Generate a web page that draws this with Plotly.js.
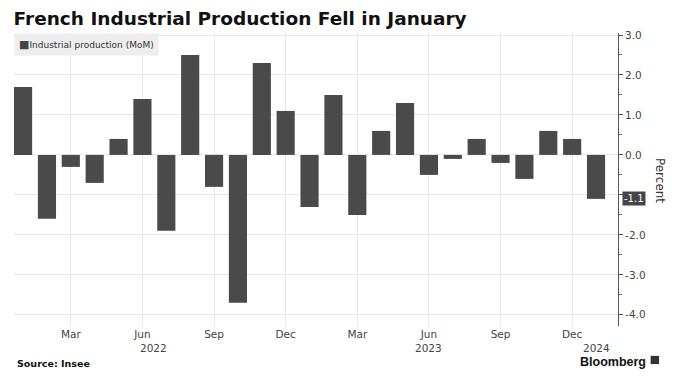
<!DOCTYPE html>
<html>
<head>
<meta charset="utf-8">
<script src="https://cdn.plot.ly/plotly-3.0.1.min.js"></script>
<style>html,body{margin:0;padding:0;background:#fff}#chart{width:679px;height:385px}</style>
</head>
<body>
<div id="chart"></div>
<script>
const months = ["Jan 2022","Feb 2022","Mar 2022","Apr 2022","May 2022","Jun 2022","Jul 2022","Aug 2022","Sep 2022","Oct 2022","Nov 2022","Dec 2022",
  "Jan 2023","Feb 2023","Mar 2023","Apr 2023","May 2023","Jun 2023","Jul 2023","Aug 2023","Sep 2023","Oct 2023","Nov 2023","Dec 2023","Jan 2024"];
const mom = [1.7,-1.6,-0.3,-0.7,0.4,1.4,-1.9,2.5,-0.8,-3.7,2.3,1.1,-1.3,1.5,-1.5,0.6,1.3,-0.5,-0.1,0.4,-0.2,-0.6,0.6,0.4,-1.1];
const tickVals = ["Mar 2022","Jun 2022","Sep 2022","Dec 2022","Mar 2023","Jun 2023","Sep 2023","Dec 2023"];
const tickText = ["Mar","Jun","Sep","Dec","Mar","Jun","Sep","Dec"];
const yearLabels = ["2022","2023","2024"];
const yearAt = ["Jun 2022","Jun 2023","Jan 2024"];
const yTicks = [3,2,1,0,-1,-2,-3,-4];
const yTickText = ["3.0","2.0","1.0","0.0","","-2.0","-3.0","-4.0"];
const seriesName = "Industrial production (MoM)";
const lastVal = mom[mom.length-1];

const font = "DejaVu Sans, Verdana, sans-serif";
const trace = {
  type: "bar", x: months, y: mom, name: seriesName,
  marker: {color: "#4a4a4a", line: {width: 0}},
  showlegend: false
};
const ann = yearLabels.map((t,i)=>({
  x: yearAt[i], xref: "x", y: 0, yref: "paper", yanchor: "top", yshift: -14,
  xshift: i===0 ? 11 : 0,
  text: t, showarrow: false, font: {family: font, size: 10.5, color: "#444"}
}));
ann.push({x: 0, xref: "paper", y: 1, yref: "paper", xanchor: "left", yanchor: "top",
  text: "<span style='color:#444;font-size:11px'>■</span>" + seriesName, showarrow: false, bgcolor: "#eeeeee", borderpad: 4,
  font: {family: font, size: 9, color: "#333"}});
ann.push({x: 1, xref: "paper", y: lastVal, yref: "y", xanchor: "left", xshift: 4,
  text: lastVal.toFixed(1), showarrow: false, bgcolor: "#444", borderpad: 1,
  font: {family: font, size: 10, color: "#fff"}});
ann.push({x: 1, xref: "paper", y: 0, yref: "y", xanchor: "center", xshift: 42, yshift: -25, yanchor: "middle",
  text: "Percent", textangle: 90, showarrow: false,
  font: {family: font, size: 12, color: "#333"}});
ann.push({x: 0, xref: "paper", xanchor: "left", xshift: 1, y: -0.128, yref: "paper", yanchor: "middle",
  text: "<b>Source: Insee</b>", showarrow: false, font: {family: font, size: 9.5, color: "#111"}});
ann.push({x: 1.05, xref: "paper", xanchor: "right", y: -0.122, yref: "paper", yanchor: "middle",
  text: "<b>Bloomberg</b>", showarrow: false, font: {family: "Liberation Sans, Arial, sans-serif", size: 12.5, color: "#111"}});

const layout = {
  width: 679, height: 385,
  margin: {l: 14, r: 61, t: 33, b: 59},
  paper_bgcolor: "#fff", plot_bgcolor: "#fff",
  title: {text: "<b>French Industrial Production Fell in January</b>", x: 0.02, xanchor: "left", y: 0.952, yanchor: "middle",
    font: {family: font, size: 18.5, color: "#111"}},
  bargap: 0.24,
  xaxis: {type: "category", range: [-0.38, 24.92], tickmode: "array", tickvals: tickVals, ticktext: tickText,
    showgrid: true, gridcolor: "#e8e8e8", gridwidth: 1, zeroline: false, showline: false, ticks: "",
    tickfont: {family: font, size: 10.5, color: "#444"}, fixedrange: true},
  yaxis: {side: "right", range: [-4.28, 3.05], tickvals: yTicks, ticktext: yTickText,
    showgrid: true, gridcolor: "#e8e8e8", zeroline: false, showline: true, linecolor: "#555", linewidth: 1,
    ticks: "outside", ticklen: 4, tickcolor: "#555",
    minor: {dtick: 0.5, ticks: "outside", ticklen: 3, tickcolor: "#777", showgrid: false},
    tickfont: {family: font, size: 10.5, color: "#444"}, fixedrange: true},
  showlegend: false,
  annotations: ann,
  shapes: [{type: "rect", xref: "paper", yref: "paper", x0: 1.054, x1: 1.068, y0: -0.102, y1: -0.130,
    fillcolor: "#333", line: {width: 0}}]
};
Plotly.newPlot("chart", [trace], layout, {displayModeBar: false, staticPlot: true});
</script>
</body>
</html>
